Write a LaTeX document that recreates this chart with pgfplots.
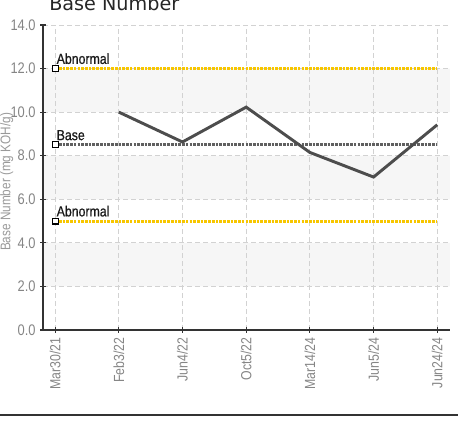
\documentclass[border=0pt]{standalone}
\usepackage{pgfplots}
\pgfplotsset{compat=1.18}
\usepackage{fontspec}
\setmainfont{Liberation Sans}[FakeStretch=0.84]
\newfontfamily\labfont{Liberation Sans}[FakeStretch=0.84, FakeBold=0.6]
\newfontfamily\titlefont{DejaVu Sans}
\definecolor{lineC}{HTML}{4D4D4D}
\definecolor{yel}{HTML}{F7C600}
\definecolor{baseC}{HTML}{606060}
\definecolor{tickC}{HTML}{858585}
\definecolor{bandC}{HTML}{F6F6F6}
\definecolor{gridC}{HTML}{D2D2D2}
\begin{document}
\begin{tikzpicture}
\begin{axis}[
  set layers,
  at={(32.25pt,69.75pt)}, anchor=south west,
  scale only axis, width=305.25pt, height=228.75pt,
  xmin=-0.19, xmax=6.2, ymin=0, ymax=14,
  axis x line=bottom, axis y line=left,
  axis line style={-, draw=black!80, line width=1.1pt},
  xtick={0,1,2,3,4,5,6},
  xticklabels={Mar30/21,Feb3/22,Jun4/22,Oct5/22,Mar14/24,Jun5/24,Jun24/24},
  x tick label style={rotate=90, anchor=east, font=\fontsize{11}{12}\selectfont, text=tickC},
  ytick={0,2,4,6,8,10,12,14},
  y tick label style={font=\fontsize{11.5}{12}\selectfont, text=tickC},
  yticklabel style={/pgf/number format/.cd, fixed, fixed zerofill, precision=1, assume math mode=true},
  tick align=center, major tick length=4pt,
  tick style={black!80, line width=0.8pt},
  grid=major, major grid style={gridC, dash pattern=on 3.5pt off 2.5pt, line width=0.6pt},
  clip=false,
]
% bands
\addplot[on layer=axis background, fill=bandC, draw=none] coordinates {(-0.19,10) (6.2,10) (6.2,12) (-0.19,12) (-0.19,10)};
\addplot[on layer=axis background, fill=bandC, draw=none] coordinates {(-0.19,6) (6.2,6) (6.2,8) (-0.19,8) (-0.19,6)};
\addplot[on layer=axis background, fill=bandC, draw=none] coordinates {(-0.19,2) (6.2,2) (6.2,4) (-0.19,4) (-0.19,2)};
% thresholds
\addplot[yel, line width=2.3pt, dash pattern=on 2pt off 0.8pt] coordinates {(0,12) (6,12)};
\addplot[yel, line width=2.3pt, dash pattern=on 2pt off 0.8pt] coordinates {(0,5) (6,5)};
\addplot[baseC, line width=2pt, dash pattern=on 2pt off 0.8pt] coordinates {(0,8.5) (6,8.5)};
% data
\addplot[lineC, line width=2.2pt] coordinates {(1,10.0) (2,8.63) (3,10.23) (4,8.15) (5,7.02) (6,9.42)};
% markers
\addplot[only marks, mark=square*, mark size=2.2pt, mark options={fill=white, draw=black, line width=0.8pt}] coordinates {(0,12) (0,8.5) (0,5)};
\node[anchor=base west, font=\labfont\fontsize{11}{12}\selectfont, inner sep=0pt, text=black!90] at (axis cs:0,12) [yshift=3.5pt, xshift=1pt] {Abnormal};
\node[anchor=base west, font=\labfont\fontsize{11}{12}\selectfont, inner sep=0pt, text=black!90] at (axis cs:0,8.5) [yshift=3.5pt, xshift=1pt] {Base};
\node[anchor=base west, font=\labfont\fontsize{11}{12}\selectfont, inner sep=0pt, text=black!90] at (axis cs:0,5) [yshift=3.5pt, xshift=1pt] {Abnormal};
\end{axis}
\node[anchor=base west, font=\titlefont\fontsize{14.4}{16}\selectfont, text=black!85, inner sep=0pt] at (36.75pt,309.5pt) {Base Number};
\node[rotate=90, font=\fontsize{10.5}{12}\selectfont, text=black!40, inner sep=0pt] at (5pt,180.75pt) {Base Number (mg KOH/g)};
\draw[black!80, line width=1.5pt] (0,6pt) -- (343.5pt,6pt);
\pgfresetboundingbox
\useasboundingbox (0,0) rectangle (343.5pt,317.25pt);
\end{tikzpicture}
\end{document}
